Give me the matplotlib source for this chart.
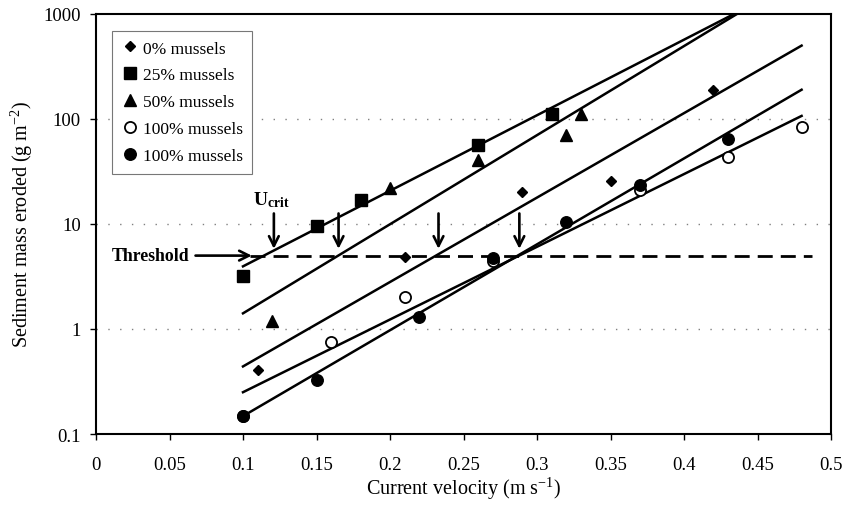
import numpy as np
import matplotlib
matplotlib.use("Agg")
import matplotlib.pyplot as plt
from matplotlib.ticker import FixedLocator, FixedFormatter, NullLocator

plt.rcParams['font.family'] = ['Liberation Serif', 'DejaVu Serif']
plt.rcParams['mathtext.fontset'] = 'custom'
plt.rcParams['mathtext.rm'] = 'Liberation Serif'
plt.rcParams['mathtext.it'] = 'Liberation Serif:italic'
plt.rcParams['mathtext.bf'] = 'Liberation Serif:bold'

# ---- data ----
x_0pct = [0.11, 0.21, 0.29, 0.35, 0.42]
y_0pct = [0.41, 4.9, 20, 25.5, 190]

x_25pct = [0.10, 0.15, 0.18, 0.26, 0.31]
y_25pct = [3.2, 9.6, 17, 57, 112]

x_50pct = [0.12, 0.20, 0.26, 0.32, 0.33]
y_50pct = [1.2, 22, 40.5, 70, 112]

x_100open = [0.10, 0.16, 0.21, 0.27, 0.37, 0.43, 0.48]
y_100open = [0.15, 0.76, 2.0, 4.45, 21, 43, 83]

x_100fill = [0.10, 0.15, 0.22, 0.27, 0.32, 0.37, 0.43]
y_100fill = [0.148, 0.33, 1.3, 4.7, 10.4, 23.5, 64.5]

# fitted regression lines: (x start, y start, x end, y end)
fit_25pct = (0.10, 3.95, 0.434, 1000)
fit_50pct = (0.10, 1.41, 0.436, 1000)
fit_0pct = (0.10, 0.44, 0.48, 500)
fit_100fill = (0.10, 0.148, 0.48, 190)
fit_100open = (0.10, 0.25, 0.48, 107)

threshold = 5
threshold_x = (0.105, 0.487)
ucrit_x = [0.121, 0.165, 0.233, 0.288]

x_ticks = [0, 0.05, 0.1, 0.15, 0.2, 0.25, 0.3, 0.35, 0.4, 0.45, 0.5]
x_tick_labels = ['0', '0.05', '0.1', '0.15', '0.2', '0.25', '0.3', '0.35', '0.4', '0.45', '0.5']
y_ticks = [0.1, 1, 10, 100, 1000]
y_tick_labels = ['0.1', '1', '10', '100', '1000']

# ---- figure ----
fig = plt.figure(figsize=(8.59, 5.06), dpi=100)
ax = fig.add_axes([96/859, 1 - 435/506, (831 - 96)/859, (435 - 15)/506])
ax.set_yscale('log')
ax.set_xlim(0, 0.5)
ax.set_ylim(0.1, 1000)

# grid
for gy in [1, 10, 100]:
    ax.axhline(gy, color='#808080', lw=1.0, linestyle=(0, (1, 7.5)), zorder=0)

def draw_fit(f):
    x0, y0, x1, y1 = f
    xs = np.linspace(x0, x1, 50)
    ly = np.log10(y0) + (np.log10(y1) - np.log10(y0)) * (xs - x0) / (x1 - x0)
    ax.plot(xs, 10**ly, color='black', lw=1.8, zorder=2)

for f in [fit_25pct, fit_50pct, fit_0pct, fit_100fill, fit_100open]:
    draw_fit(f)

ax.plot(x_0pct, y_0pct, 'D', ms=5.5, color='black', ls='none', label='0% mussels', zorder=3)
ax.plot(x_25pct, y_25pct, 's', ms=8, color='black', ls='none', label='25% mussels', zorder=3)
ax.plot(x_50pct, y_50pct, '^', ms=8, color='black', ls='none', label='50% mussels', zorder=3)
ax.plot(x_100open, y_100open, 'o', ms=8, mfc='white', mec='black', mew=1.3, ls='none',
        label='100% mussels', zorder=3)
ax.plot(x_100fill, y_100fill, 'o', ms=8.3, color='black', ls='none', label='100% mussels', zorder=4)

# threshold
ax.plot(threshold_x, [threshold, threshold], color='black', lw=2.0,
        linestyle=(0, (5.4, 2.9)), zorder=2)
ax.annotate('', xy=(0.106, threshold), xytext=(0.0677, threshold),
            arrowprops=dict(arrowstyle='->,head_length=0.7,head_width=0.35', lw=1.9, color='black',
                            shrinkA=0, shrinkB=0))
ax.text(0.0635, threshold, 'Threshold', ha='right', va='center', fontsize=12.8, fontweight='bold')

for ux in ucrit_x:
    ax.annotate('', xy=(ux, 5.8), xytext=(ux, 12.6),
                arrowprops=dict(arrowstyle='->,head_length=0.7,head_width=0.35', lw=1.9, color='black',
                                shrinkA=0, shrinkB=0))
ax.text(0.119, 17.3, r'$\mathbf{U_{crit}}$', ha='center', va='center', fontsize=14)

# axes styling
ax.xaxis.set_major_locator(FixedLocator(x_ticks))
ax.xaxis.set_major_formatter(FixedFormatter(x_tick_labels))
ax.yaxis.set_major_locator(FixedLocator(y_ticks))
ax.yaxis.set_major_formatter(FixedFormatter(y_tick_labels))
ax.yaxis.set_minor_locator(NullLocator())
ax.tick_params(axis='both', direction='out', length=4, width=1, labelsize=13.5, colors='black')
ax.tick_params(axis='x', pad=12)
ax.tick_params(axis='y', pad=7)
for s in ax.spines.values():
    s.set_linewidth(1.5)
    s.set_color('black')

ax.set_xlabel(r'Current velocity (m s$^{-1}$)', fontsize=14.5, labelpad=1)
ax.set_ylabel(r'Sediment mass eroded (g m$^{-2}$)', fontsize=14.5, labelpad=6)

leg = ax.legend(loc='upper left', bbox_to_anchor=(0.0224, 0.96), borderaxespad=0,
                fontsize=12.5, frameon=True, fancybox=False, framealpha=1,
                handlelength=0.9, handletextpad=0.3, labelspacing=0.62,
                borderpad=0.55, numpoints=1)
leg.get_frame().set_edgecolor('#777777')
leg.get_frame().set_linewidth(0.8)

fig.savefig('out.png', dpi=100)
